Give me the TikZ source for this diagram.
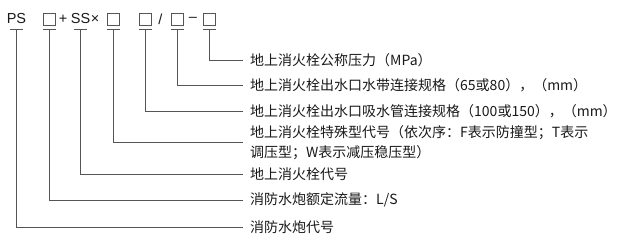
\documentclass[tikz,border=0pt]{standalone}
\usepackage{fontspec}
\setmainfont{Noto Sans CJK SC}
\newfontfamily\latfont{Liberation Sans}
\definecolor{linec}{RGB}{85,85,85}
\definecolor{txtc}{RGB}{25,25,25}
\begin{document}
\begin{tikzpicture}[x=1pt,y=-1pt,
  codetxt/.style={inner sep=0pt,font=\latfont\fontsize{14.5}{14.5}\selectfont,text=txtc},
  codebox/.style={draw=linec,line width=0.9pt,minimum width=12pt,minimum height=12pt,inner sep=0pt},
  desc/.style={anchor=west,inner sep=0pt,font=\fontsize{14}{20}\selectfont,text=txtc,align=left},
  conn/.style={draw=linec,line width=1pt},
  uline/.style={draw=linec,line width=1pt}]
\useasboundingbox (0,0) rectangle (630,242);
% top code row
\node[codetxt] (ps) at (16.5,19) {PS};
\node[codebox] (b1) at (49,19) {};
\node[codetxt] (plus) at (63,19) {+};
\node[codetxt] (ss) at (80.5,19) {SS};
\node[codetxt] (times) at (95,19) {×};
\node[codebox] (b2) at (113,19) {};
\node[codebox] (b3) at (145,19) {};
\node[codetxt] (slash) at (160.5,19) {/};
\node[codebox] (b4) at (177,19) {};
\node[codetxt] (dash) at (193,19) {–};
\node[codebox] (b5) at (209,19) {};
% underline tops
\foreach \n/\x in {u0/16.5,u1/49,u2/80.5,u3/113,u4/145,u5/177,u6/209}{
  \coordinate (\n) at (\x,29);
  \draw[uline] (\x-6.5,29) -- (\x+6.5,29);
}
% descriptions
\node[desc] (d6) at (250,60) {地上消火栓公称压力（MPa）};
\node[desc] (d5) at (250,85) {地上消火栓出水口水带连接规格（65或80），（mm）};
\node[desc] (d4) at (250,111) {地上消火栓出水口吸水管连接规格（100或150），（mm）};
\node[desc] (d3) at (250,142.5) {地上消火栓特殊型代号（依次序：F表示防撞型；T表示\\调压型；W表示减压稳压型）};
\node[desc] (d2) at (250,174) {地上消火栓代号};
\node[desc] (d1) at (250,200) {消防水炮额定流量：L/S};
\node[desc] (d0) at (250,227) {消防水炮代号};
% connectors
\draw[conn] (u6) |- ([xshift=-7pt]d6.west);
\draw[conn] (u5) |- ([xshift=-7pt]d5.west);
\draw[conn] (u4) |- ([xshift=-7pt]d4.west);
\draw[conn] (u3) |- ([xshift=-7pt]d3.west);
\draw[conn] (u2) |- ([xshift=-7pt]d2.west);
\draw[conn] (u1) |- ([xshift=-7pt]d1.west);
\draw[conn] (u0) |- ([xshift=-7pt]d0.west);
\end{tikzpicture}
\end{document}
